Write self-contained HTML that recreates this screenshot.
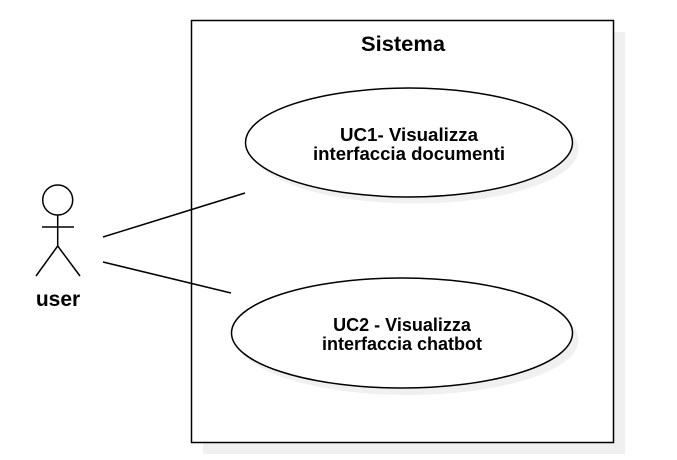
<!DOCTYPE html>
<html><head><meta charset="utf-8"><style>
html,body{margin:0;padding:0;background:#fff;width:677px;height:460px;overflow:hidden}
</style></head><body>
<svg width="677" height="460" xmlns="http://www.w3.org/2000/svg" font-family="Liberation Sans, sans-serif">
<rect x="203" y="32" width="422" height="422" fill="#f0f0f0"/>
<rect x="191.5" y="20.5" width="422" height="422" fill="#fff" stroke="#000" stroke-width="1.5"/>
<text x="403" y="51" font-size="21" font-weight="bold" text-anchor="middle" textLength="84" lengthAdjust="spacingAndGlyphs">Sistema</text>
<ellipse cx="415" cy="149" rx="163.5" ry="54.5" fill="#f0f0f0"/>
<ellipse cx="409" cy="142.5" rx="163.5" ry="54.5" fill="#fff" stroke="#000" stroke-width="1.5"/>
<text x="409" y="141" font-size="18" font-weight="bold" text-anchor="middle" textLength="138" lengthAdjust="spacingAndGlyphs">UC1- Visualizza</text>
<text x="409" y="160" font-size="18" font-weight="bold" text-anchor="middle" textLength="192" lengthAdjust="spacingAndGlyphs">interfaccia documenti</text>
<ellipse cx="408" cy="340" rx="170.5" ry="55" fill="#f0f0f0"/>
<ellipse cx="402" cy="333" rx="170.5" ry="55" fill="#fff" stroke="#000" stroke-width="1.5"/>
<text x="402" y="331" font-size="18" font-weight="bold" text-anchor="middle">UC2 - Visualizza</text>
<text x="402" y="350" font-size="18" font-weight="bold" text-anchor="middle">interfaccia chatbot</text>
<g stroke="#000" stroke-width="1.5" fill="none">
<line x1="103" y1="237" x2="245" y2="193"/>
<line x1="103" y1="262" x2="231" y2="293"/>
<circle cx="57.7" cy="200" r="15" fill="#fff"/>
<line x1="57.7" y1="215" x2="57.7" y2="246"/>
<line x1="42" y1="227" x2="74" y2="227"/>
<line x1="57.7" y1="246" x2="36" y2="276"/>
<line x1="57.7" y1="246" x2="80" y2="276"/>
</g>
<text x="58" y="306" font-size="21" font-weight="bold" text-anchor="middle">user</text>
</svg>
</body></html>
